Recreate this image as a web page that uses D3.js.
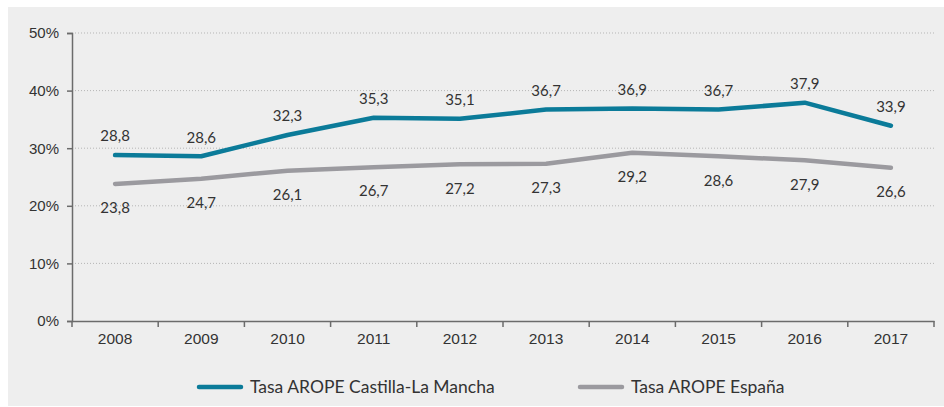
<!DOCTYPE html>
<html>
<head>
<meta charset="utf-8">
<script src="https://cdn.jsdelivr.net/npm/d3@7"></script>
<style>
  body { margin: 0; background: #fff; }
  svg { display: block; font-family: Lato, "Open Sans", sans-serif; }
</style>
</head>
<body>
<div id="viz"></div>
<script>
let years = ['2008', '2009', '2010', '2011', '2012', '2013', '2014', '2015', '2016', '2017'];
let clm = [28.8, 28.6, 32.3, 35.3, 35.1, 36.7, 36.9, 36.7, 37.9, 33.9];
let esp = [23.8, 24.7, 26.1, 26.7, 27.2, 27.3, 29.2, 28.6, 27.9, 26.6];
let y_ticks = [0, 10, 20, 30, 40, 50];
let series_names = ['Tasa AROPE Castilla-La Mancha', 'Tasa AROPE España'];
let colors = ['#0b7b99', '#9b9a9f'];

const width = 944, height = 407;
const margin = {top: 33, right: 10, bottom: 86, left: 72};

const svg = d3.select('#viz').append('svg')
    .attr('width', width)
    .attr('height', height);

// panel background
svg.append('rect')
    .attr('x', 8).attr('y', 7)
    .attr('width', width - 8).attr('height', height - 8)
    .attr('fill', '#eeeeee');

const x = d3.scaleBand()
    .domain(years)
    .range([margin.left, 934]);

const y = d3.scaleLinear()
    .domain([0, 50])
    .range([321, margin.top]);

// dotted gridlines
svg.append('g')
    .selectAll('line')
    .data(y_ticks.filter(d => d > 0))
    .join('line')
    .attr('x1', margin.left).attr('x2', 934)
    .attr('y1', d => y(d)).attr('y2', d => y(d))
    .attr('stroke', '#b5b5b5')
    .attr('stroke-width', 1)
    .attr('stroke-dasharray', '1,2');

// y axis
const yAxis = svg.append('g')
    .attr('transform', 'translate(' + margin.left + ',0)')
    .call(d3.axisLeft(y).tickValues(y_ticks).tickFormat(d => d + '%').tickSize(5).tickPadding(8));
yAxis.select('.domain').attr('stroke', '#6b6b6b').attr('stroke-width', 1.5);
yAxis.selectAll('.tick line').attr('stroke', '#6b6b6b').attr('stroke-width', 1.5);
yAxis.selectAll('.tick text').attr('fill', '#333').style('font-size', '15px');

// x axis with ticks on the band boundaries
const xAxis = svg.append('g')
    .attr('transform', 'translate(0,321)')
    .call(d3.axisBottom(x).tickSize(0).tickPadding(12));
xAxis.select('.domain').attr('stroke', '#6b6b6b').attr('stroke-width', 1.5);
xAxis.selectAll('.tick text').attr('fill', '#333').style('font-size', '15.5px');
svg.append('g')
    .selectAll('line')
    .data(years.concat(['end']))
    .join('line')
    .attr('x1', (d, i) => margin.left + i * x.bandwidth())
    .attr('x2', (d, i) => margin.left + i * x.bandwidth())
    .attr('y1', 321).attr('y2', 327)
    .attr('stroke', '#6b6b6b')
    .attr('stroke-width', 1.5);

const line = d3.line()
    .x((d, i) => x(years[i]) + x.bandwidth() / 2)
    .y(d => y(d));

[esp, clm].forEach(function (s, k) {
    svg.append('path')
        .datum(s)
        .attr('d', line)
        .attr('fill', 'none')
        .attr('stroke', colors[1 - k])
        .attr('stroke-width', 4.5)
        .attr('stroke-linecap', 'round')
        .attr('stroke-linejoin', 'round');
});

// data labels
const fmt = v => String(v.toFixed(1)).replace('.', ',');
svg.append('g')
    .selectAll('text')
    .data(clm)
    .join('text')
    .attr('x', (d, i) => x(years[i]) + x.bandwidth() / 2)
    .attr('y', d => y(d) - 19)
    .attr('dy', '0.35em')
    .attr('text-anchor', 'middle')
    .attr('fill', '#333')
    .style('font-size', '15px')
    .text(fmt);
svg.append('g')
    .selectAll('text')
    .data(esp)
    .join('text')
    .attr('x', (d, i) => x(years[i]) + x.bandwidth() / 2)
    .attr('y', d => y(d) + 24)
    .attr('dy', '0.35em')
    .attr('text-anchor', 'middle')
    .attr('fill', '#333')
    .style('font-size', '15px')
    .text(fmt);

// legend
const legend = svg.append('g')
    .selectAll('g')
    .data(series_names)
    .join('g')
    .attr('transform', (d, i) => 'translate(' + [199, 580][i] + ',387)');
legend.append('line')
    .attr('x1', 0).attr('x2', 42)
    .attr('y1', 0).attr('y2', 0)
    .attr('stroke', (d, i) => colors[i])
    .attr('stroke-width', 4.5)
    .attr('stroke-linecap', 'round');
legend.append('text')
    .attr('x', 51)
    .attr('dy', '0.35em')
    .attr('fill', '#333')
    .style('font-size', '17.5px')
    .text(d => d);
</script>
</body>
</html>
